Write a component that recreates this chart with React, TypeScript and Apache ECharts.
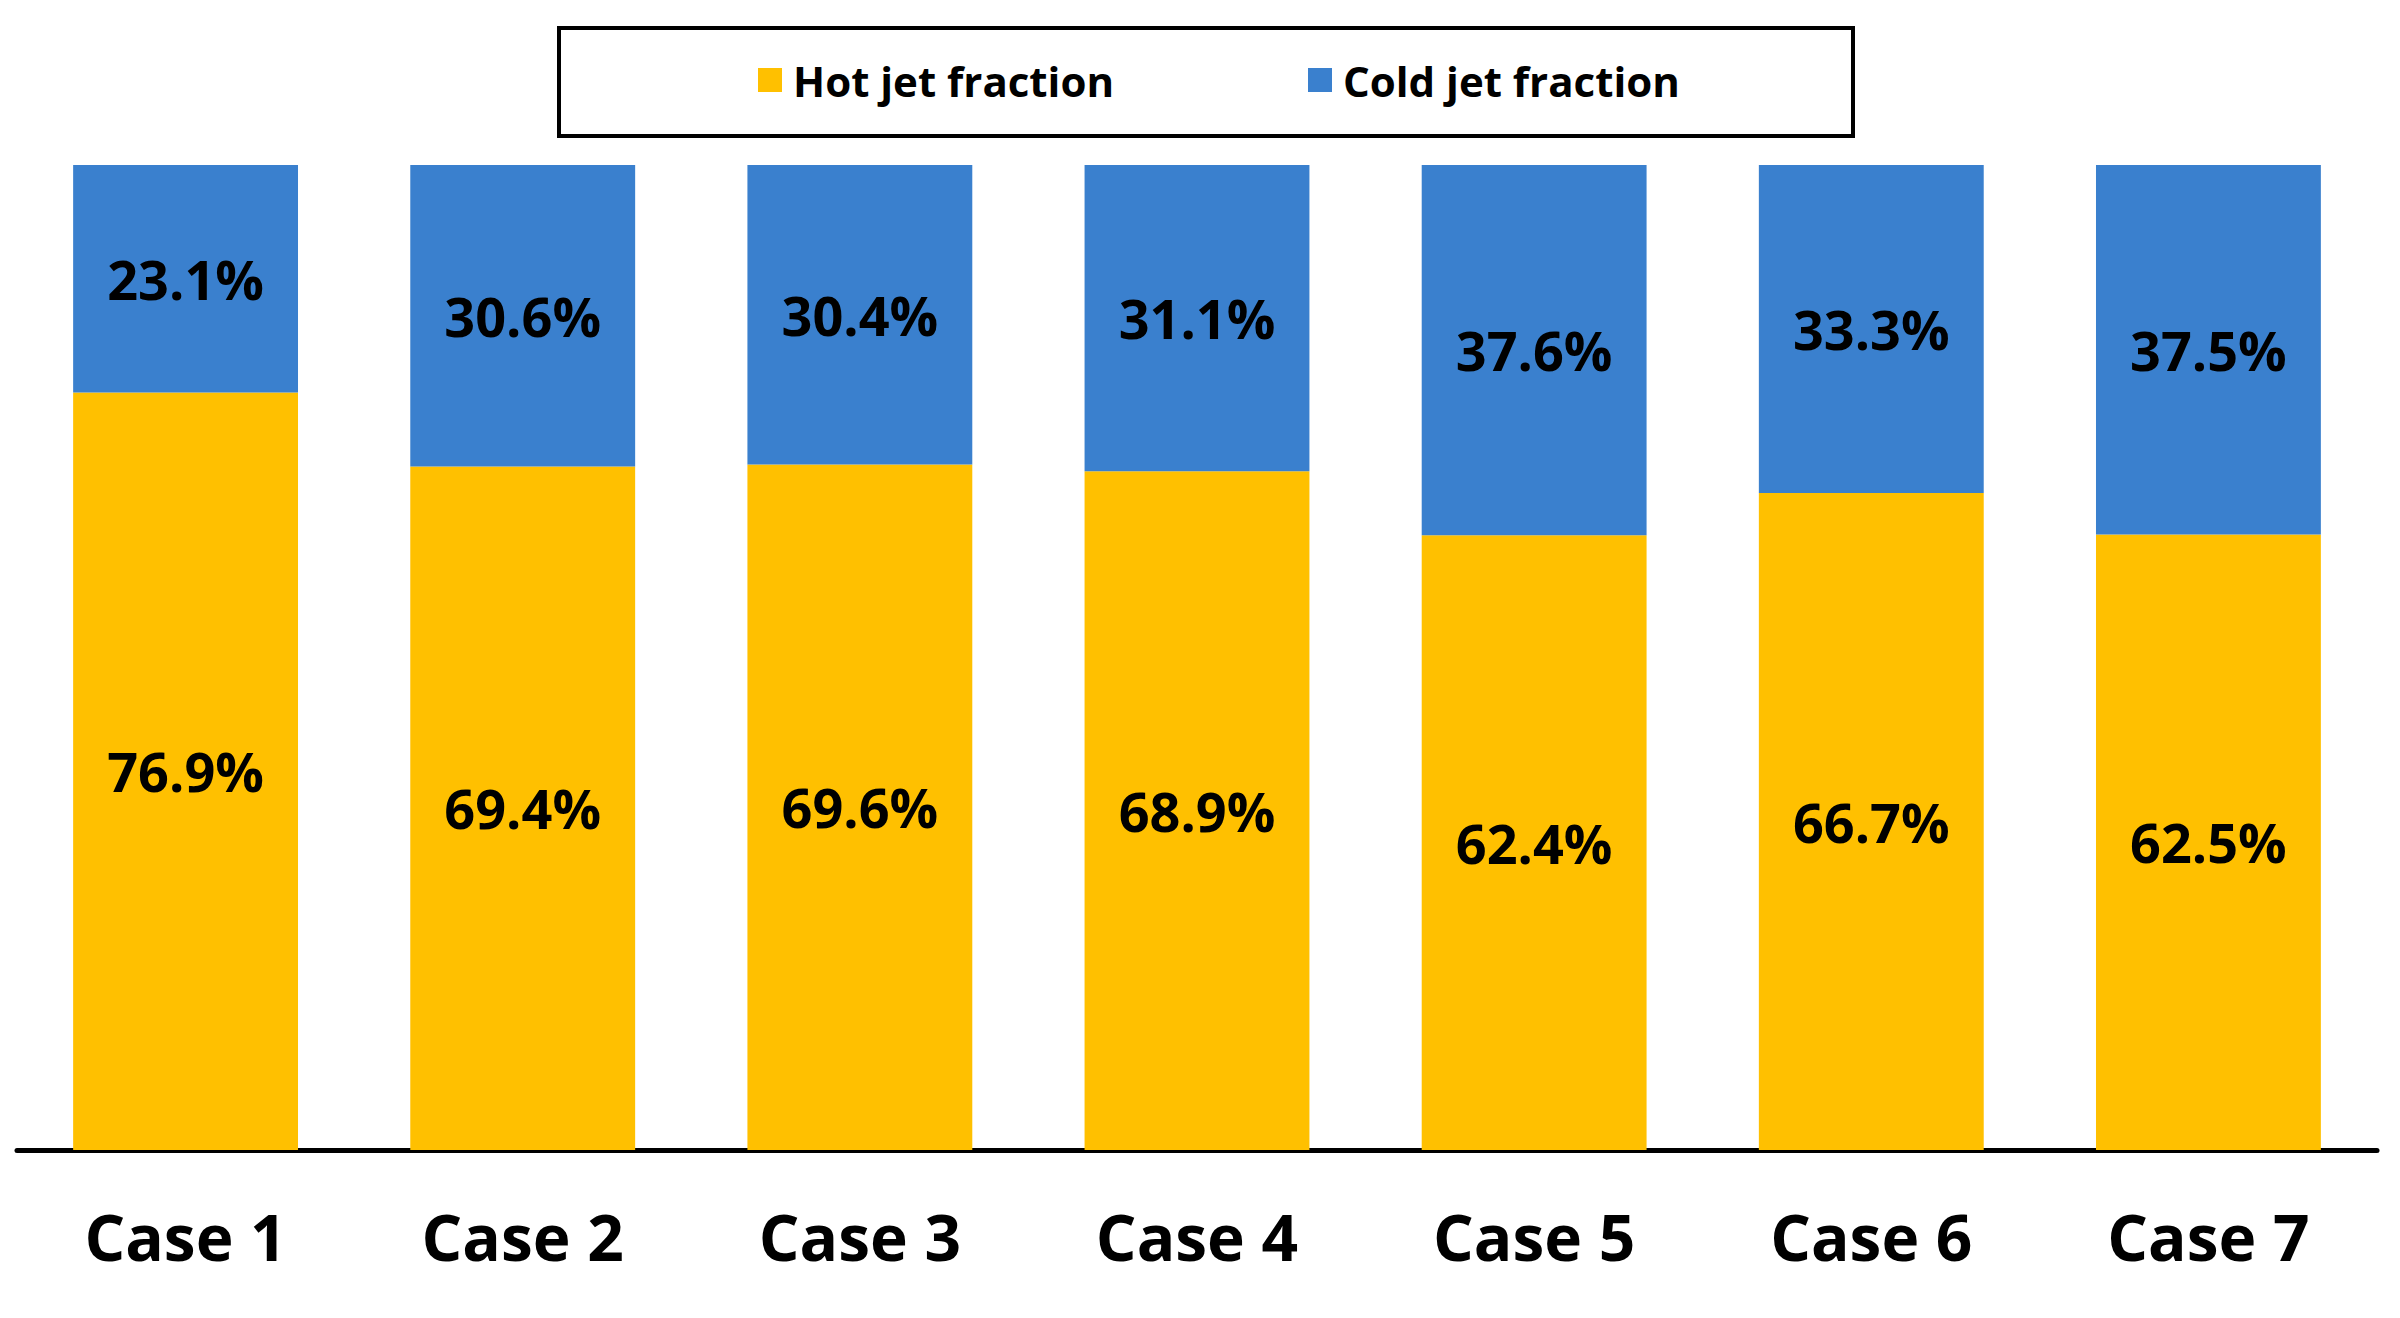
import React, { useEffect, useRef } from "react";
import * as echarts from "echarts";

const categories = ["Case 1", "Case 2", "Case 3", "Case 4", "Case 5", "Case 6", "Case 7"];
const hotJet = [76.9, 69.4, 69.6, 68.9, 62.4, 66.7, 62.5];
const coldJet = [23.1, 30.6, 30.4, 31.1, 37.6, 33.3, 37.5];
const seriesNames = ["Hot jet fraction", "Cold jet fraction"];

const FONT = "'Open Sans', 'Noto Sans', sans-serif";

export default function App() {
  const ref = useRef<HTMLDivElement>(null);
  useEffect(() => {
    document.body.style.margin = "0";
    const chart = echarts.init(ref.current!, null, { renderer: "svg" });
    const labelStyle = {
      show: true,
      position: "inside",
      formatter: (p: any) => p.value.toFixed(1) + "%",
      color: "#000",
      fontFamily: FONT,
      fontWeight: "bold",
      fontSize: 54,
    };
    chart.setOption({
      animation: false,
      backgroundColor: "#fff",
      graphic: [
        {
          type: "rect",
          shape: { x: 559, y: 28, width: 1294, height: 108 },
          style: { fill: "none", stroke: "#000", lineWidth: 4 },
          z: 10,
        },
      ],
      legend: {
        left: 758,
        top: 56,
        padding: 0,
        itemWidth: 24,
        itemHeight: 24,
        itemGap: 194,
        icon: "rect",
        data: seriesNames,
        textStyle: {
          fontFamily: FONT,
          fontWeight: "bold",
          fontSize: 42,
          color: "#000",
          padding: [0, 0, 0, 6],
          lineHeight: 48,
        },
      },
      grid: { left: 17, top: 165, width: 2360, height: 985, containLabel: false },
      xAxis: {
        type: "category",
        data: categories,
        axisLine: { show: true, lineStyle: { color: "#000", width: 5 } },
        axisTick: { show: false },
        axisLabel: {
          color: "#000",
          fontFamily: FONT,
          fontWeight: "bold",
          fontSize: 64,
          margin: 54,
        },
      },
      yAxis: {
        type: "value",
        min: 0,
        max: 100,
        show: false,
        splitLine: { show: false },
      },
      series: [
        {
          name: seriesNames[0],
          type: "bar",
          stack: "total",
          data: hotJet,
          barWidth: "66.7%",
          itemStyle: { color: "#FFC000" },
          label: labelStyle,
        },
        {
          name: seriesNames[1],
          type: "bar",
          stack: "total",
          data: coldJet,
          barWidth: "66.7%",
          itemStyle: { color: "#3A80CE" },
          label: labelStyle,
        },
      ],
    });
    return () => chart.dispose();
  }, []);
  return <div ref={ref} style={{ width: 2400, height: 1318 }} />;
}
